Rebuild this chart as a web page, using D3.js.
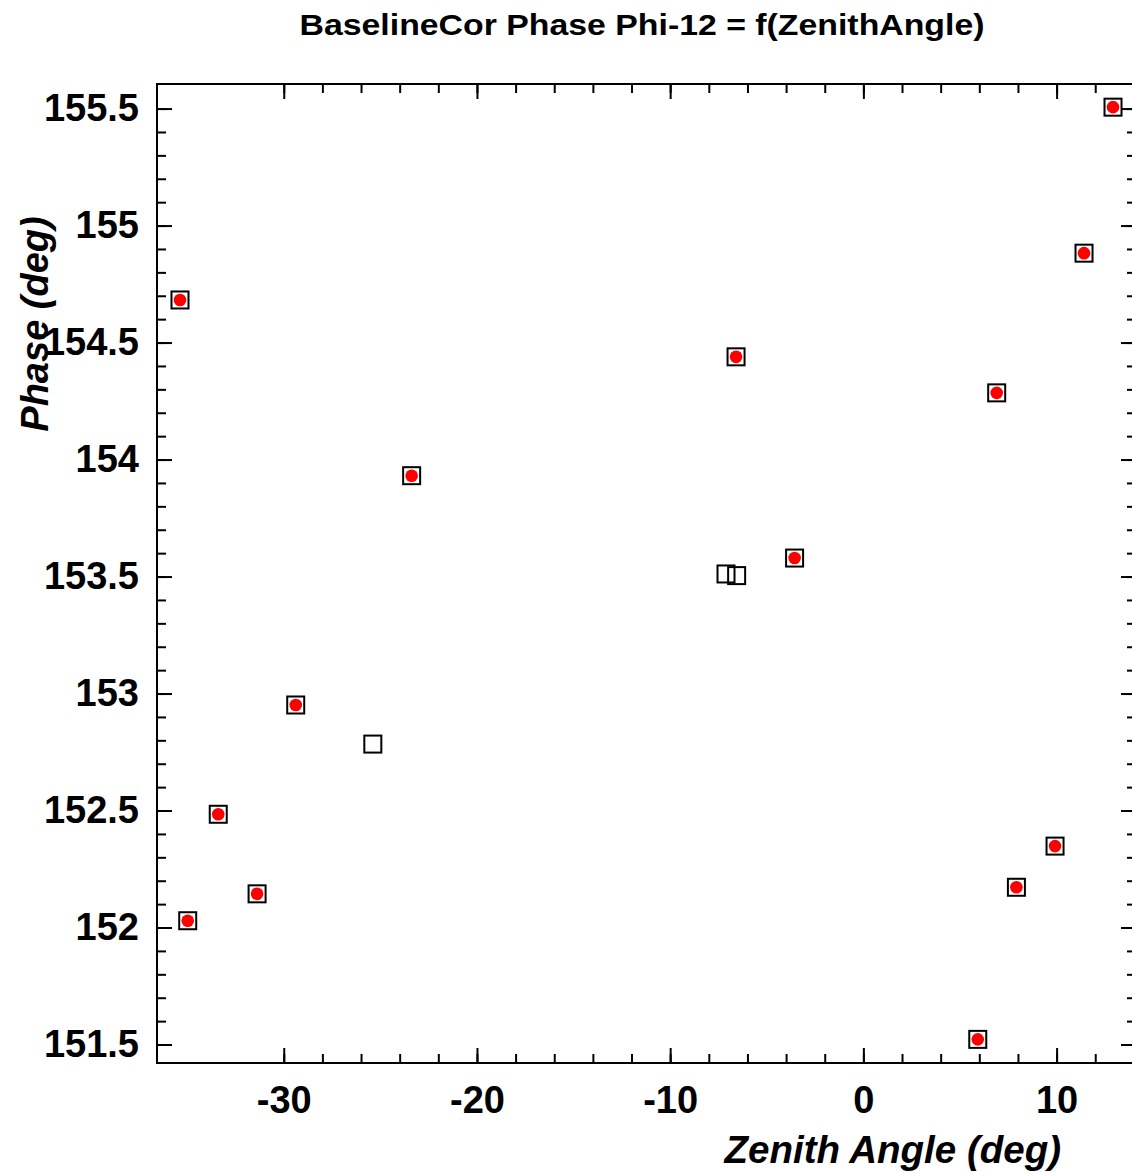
<!DOCTYPE html>
<html>
<head>
<meta charset="utf-8">
<script src="https://cdn.jsdelivr.net/npm/d3@7"></script>
<style>
  body { margin: 0; background: #fff; }
  svg text { font-family: "Liberation Sans", Arial, Helvetica, sans-serif; font-weight: bold; }
</style>
</head>
<body>
<div id="chart-area"></div>
<script>
// phase vs zenith angle, squares = all points, red dot = kept points
var zenith = [-35.37, -34.97, -33.39, -31.38, -29.38, -25.39, -23.38, -7.11, -6.56, -6.59, -3.56, 5.92, 6.90, 7.92, 9.92, 11.42, 12.92];
var phase  = [154.682, 152.029, 152.484, 152.144, 152.951, 152.784, 153.931, 153.511, 153.504, 154.439, 153.579, 151.522, 154.285, 152.172, 152.348, 154.882, 155.506];
var kept   = [1, 1, 1, 1, 1, 0, 1, 0, 0, 1, 1, 1, 1, 1, 1, 1, 1];

var xMajor = [-30, -20, -10, 0, 10];
var xMinor = d3.range(-30, 13, 2);
var yMajor = [151.5, 152, 152.5, 153, 153.5, 154, 154.5, 155, 155.5];
var yMinor = d3.range(15150, 15556, 10).map(d => d / 100);

var W = 1132, H = 1172;
var margin = { left: 157, right: -4, top: 84, bottom: 109 };
var width = W - margin.left - margin.right,
    height = H - margin.top - margin.bottom;

var svg = d3.select("#chart-area")
    .append("svg")
        .attr("width", W)
        .attr("height", H);

var g = svg.append("g")
    .attr("transform", "translate(" + margin.left + "," + margin.top + ")");

var x = d3.scaleLinear().domain([-36.56, 14.11]).range([0, width]);
var y = d3.scaleLinear().domain([151.421, 155.605]).range([height, 0]);

// plain hyphen like the original, not the unicode minus
var fmtX = d => String(d);
var fmtY = d => (d % 1 === 0) ? String(d) : d.toFixed(1);

function styleAxis(sel) {
    sel.select(".domain").remove();
    sel.selectAll(".tick line").attr("stroke", "#000").attr("stroke-width", 2);
    sel.selectAll("text")
        .attr("fill", "#000")
        .style("font-size", "38px");
}

// minor ticks, all four sides
g.append("g").attr("transform", "translate(0," + height + ")")
    .call(d3.axisBottom(x).tickValues(xMinor).tickSize(-9).tickFormat(""))
    .call(styleAxis);
g.append("g")
    .call(d3.axisTop(x).tickValues(xMinor).tickSize(-9).tickFormat(""))
    .call(styleAxis);
g.append("g")
    .call(d3.axisLeft(y).tickValues(yMinor).tickSize(-9).tickFormat(""))
    .call(styleAxis);
g.append("g").attr("transform", "translate(" + width + ",0)")
    .call(d3.axisRight(y).tickValues(yMinor).tickSize(-9).tickFormat(""))
    .call(styleAxis);

// major ticks
g.append("g").attr("transform", "translate(0," + height + ")")
    .call(d3.axisBottom(x).tickValues(xMajor).tickSize(-15).tickPadding(23).tickFormat(fmtX))
    .call(styleAxis);
g.append("g")
    .call(d3.axisTop(x).tickValues(xMajor).tickSize(-15).tickFormat(""))
    .call(styleAxis);
g.append("g")
    .call(d3.axisLeft(y).tickValues(yMajor).tickSize(-15).tickPadding(18).tickFormat(fmtY))
    .call(styleAxis);
g.append("g").attr("transform", "translate(" + width + ",0)")
    .call(d3.axisRight(y).tickValues(yMajor).tickSize(-15).tickFormat(""))
    .call(styleAxis);

// frame
g.append("rect")
    .attr("x", 0).attr("y", 0)
    .attr("width", width).attr("height", height)
    .attr("fill", "none")
    .attr("stroke", "#000")
    .attr("stroke-width", 2);

var pts = zenith.map((z, i) => ({ z: z, p: phase[i], k: kept[i] }));

g.selectAll("circle.dot")
    .data(pts.filter(d => d.k))
    .join("circle")
        .attr("class", "dot")
        .attr("cx", d => x(d.z))
        .attr("cy", d => y(d.p))
        .attr("r", 6.3)
        .attr("fill", "#ff0000");

g.selectAll("rect.sq")
    .data(pts)
    .join("rect")
        .attr("class", "sq")
        .attr("x", d => x(d.z) - 8.5)
        .attr("y", d => y(d.p) - 8.5)
        .attr("width", 17)
        .attr("height", 17)
        .attr("fill", "none")
        .attr("stroke", "#000")
        .attr("stroke-width", 2);

// titles
svg.append("text")
    .attr("x", 642).attr("y", 35)
    .attr("text-anchor", "middle")
    .attr("textLength", 685)
    .attr("lengthAdjust", "spacingAndGlyphs")
    .style("font-size", "30px")
    .text("BaselineCor Phase Phi-12 = f(ZenithAngle)");

svg.append("text")
    .attr("x", 1061).attr("y", 1163)
    .attr("text-anchor", "end")
    .style("font-size", "38.5px")
    .style("font-style", "italic")
    .text("Zenith Angle (deg)");

svg.append("text")
    .attr("transform", "translate(48,324) rotate(-90)")
    .attr("text-anchor", "middle")
    .style("font-size", "38px")
    .style("font-style", "italic")
    .text("Phase (deg)");
</script>
</body>
</html>
